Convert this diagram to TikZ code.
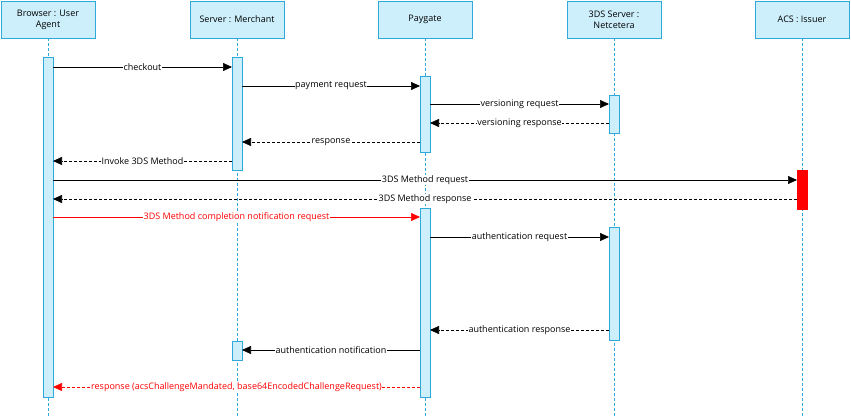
\documentclass[tikz,border=0pt]{standalone}
\usepackage{fontspec}
\setmainfont{Open Sans}
\usetikzlibrary{arrows.meta}
\definecolor{lifeblue}{HTML}{2FA8DC}
\definecolor{boxfill}{HTML}{CDEFFC}
\begin{document}
\begin{tikzpicture}[x=1pt,y=-1pt,font=\fontsize{9}{11}\selectfont,
    actor/.style={draw=lifeblue,fill=boxfill,line width=0.9pt,minimum width=94pt,minimum height=37pt,align=center,inner sep=1pt},
    life/.style={draw=lifeblue,dashed,line width=0.7pt,dash pattern=on 3pt off 2pt},
    act/.style={draw=lifeblue,fill=boxfill,line width=0.7pt},
    msg/.style={-{Triangle[length=9pt,width=8pt]},line width=0.6pt},
    ret/.style={msg,dashed,dash pattern=on 3pt off 2pt},
    lbl/.style={fill=white,inner sep=0.5pt}]
  \useasboundingbox (0,0) rectangle (851,417);
  % participants
  \node[actor] (B) at (48,19.5) {Browser : User\\Agent};
  \node[actor] (M) at (237,19.5) {Server : Merchant};
  \node[actor] (P) at (425,19.5) {Paygate};
  \node[actor] (T) at (614,19.5) {3DS Server :\\Netcetera};
  \node[actor] (A) at (802,19.5) {ACS : Issuer};
  \foreach \n in {B,M,P,T,A}
    \draw[life] (\n.south) -- (\n.south |- 0,417);
  % activations
  \draw[act] (43,57) rectangle (53,397);
  \draw[act] (232,57) rectangle (242,170);
  \draw[act] (420,76) rectangle (430,152);
  \draw[act] (609,95) rectangle (619,133);
  \draw[fill=red,draw=red] (797,170) rectangle (807,209);
  \draw[act] (420,208) rectangle (430,397);
  \draw[act] (609,227) rectangle (619,340);
  \draw[act] (232,341) rectangle (242,360);
  % messages
  \draw[msg] (53,67) -- node[lbl]{checkout} (232,67);
  \draw[msg] (242,86) -- node[lbl]{payment request} (420,86);
  \draw[msg] (430,104) -- node[lbl]{versioning request} (609,104);
  \draw[ret] (609,123) -- node[lbl]{versioning response} (430,123);
  \draw[ret] (420,142) -- node[lbl]{response} (242,142);
  \draw[ret] (232,161) -- node[lbl]{Invoke 3DS Method} (53,161);
  \draw[msg] (53,180) -- node[lbl,pos=0.5]{3DS Method request} (797,180);
  \draw[ret] (797,199) -- node[lbl]{3DS Method response} (53,199);
  \draw[msg,red] (53,217) -- node[lbl]{3DS Method completion notification request} (420,217);
  \draw[msg] (430,237) -- node[lbl]{authentication request} (609,237);
  \draw[ret] (609,330) -- node[lbl]{authentication response} (430,330);
  \draw[msg] (420,350) -- node[lbl]{authentication notification} (242,350);
  \draw[ret,red] (420,387) -- node[lbl]{response (acsChallengeMandated, base64EncodedChallengeRequest)} (53,387);
\end{tikzpicture}
\end{document}
